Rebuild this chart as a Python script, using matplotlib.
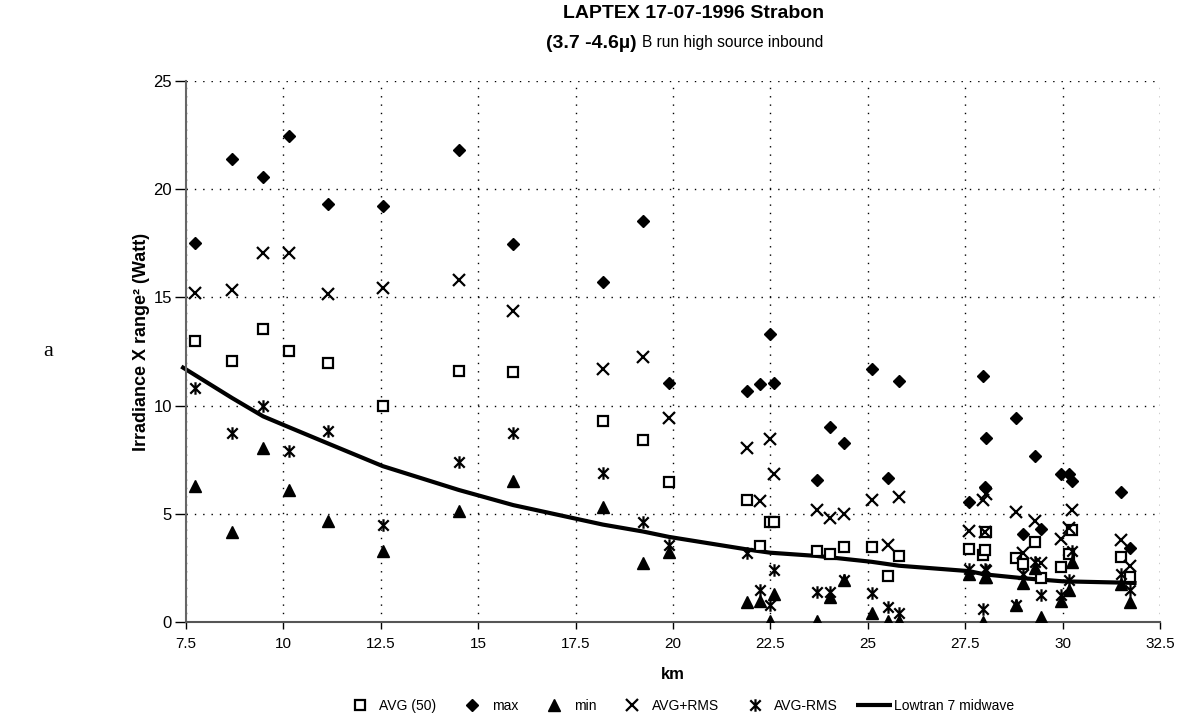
import numpy as np
import matplotlib
matplotlib.use("Agg")
from matplotlib import pyplot as plt
from matplotlib.path import Path

plt.rcParams['font.family'] = ['Liberation Sans', 'DejaVu Sans']

# range (km) of each measurement column
km = [7.73, 8.68, 9.48, 10.14, 11.14, 12.55, 14.5, 15.9, 18.2, 19.23, 19.9,
      21.91, 22.23, 22.5, 22.6, 23.7, 24.02, 24.4, 25.1, 25.51, 25.8,
      27.6, 27.96, 28.0, 28.04, 28.8, 28.98, 29.3, 29.45, 29.95, 30.16, 30.24,
      31.5, 31.74]

avg = [13.0, 12.05, 13.55, 12.5, 11.95, 10.0, 11.6, 11.55, 9.3, 8.42, 6.48,
       5.62, 3.52, 4.6, 4.6, 3.3, 3.12, 3.45, 3.45, 2.12, 3.07,
       3.37, 3.08, 3.31, 4.16, 2.95, 2.68, 3.7, 2.01, 2.55, 3.16, 4.25,
       3.01, 2.06]

vmax = [17.5, 21.4, 20.55, 22.45, 19.3, 19.2, 21.8, 17.45, 15.7, 18.5, 11.02,
        10.67, 11.0, 13.28, 11.02, 6.56, 9.02, 8.25, 11.7, 6.66, 11.12,
        5.54, 11.37, 6.23, 8.5, 9.4, 4.05, 7.69, 4.31, 6.85, 6.85, 6.5,
        6.0, 3.44]

vmin = [6.3, 4.15, 8.05, 6.1, 4.65, 3.3, 5.15, 6.5, 5.33, 2.73, 3.25,
        0.94, 0.97, 0.05, 1.28, 0.05, 1.17, 1.93, 0.4, 0.05, 0.05,
        2.2, 0.02, 2.06, 2.1, 0.78, 1.8, 2.5, 0.25, 0.97, 1.47, 2.75,
        1.75, 0.94]

avg_plus = [15.2, 15.35, 17.05, 17.05, 15.15, 15.45, 15.8, 14.35, 11.7, 12.25, 9.42,
            8.05, 5.57, 8.46, 6.82, 5.18, 4.82, 4.97, 5.64, 3.56, 5.76,
            4.22, 5.65, 4.16, 5.92, 5.1, 3.2, 4.68, 2.72, 3.82, 4.35, 5.18,
            3.81, 2.58]

avg_minus = [10.8, 8.75, 10.0, 7.9, 8.8, 4.5, 7.4, 8.75, 6.88, 4.6, 3.57,
             3.19, 1.47, 0.8, 2.4, 1.4, 1.4, 1.96, 1.32, 0.71, 0.4,
             2.47, 0.6, 2.47, 2.4, 0.8, 2.2, 2.78, 1.26, 1.24, 1.95, 3.28,
             2.22, 1.5]

# Lowtran 7 midwave model curve
lt_km = [7.38, 8.68, 9.48, 10.14, 11.14, 12.55, 14.5, 15.9, 18.2, 19.23, 19.9,
         21.91, 22.5, 23.7, 25.1, 25.8, 27.6, 28.0, 29.0, 30.0, 31.5, 31.9]
lowtran = [11.8, 10.35, 9.5, 9.0, 8.25, 7.2, 6.1, 5.4, 4.5, 4.18, 3.93,
           3.35, 3.2, 3.05, 2.78, 2.6, 2.35, 2.2, 2.02, 1.88, 1.82, 1.8]

# Excel style "star" marker: an x with a vertical bar
star = Path([(-1, -1), (1, 1), (-1, 1), (1, -1), (0, -1.2), (0, 1.2)],
            [Path.MOVETO, Path.LINETO, Path.MOVETO, Path.LINETO,
             Path.MOVETO, Path.LINETO])

fig = plt.figure(figsize=(11.93, 7.21), dpi=100)
ax = fig.add_axes([0.1559, 0.1373, 0.8164, 0.7507])

ax.plot(km, avg, ls='none', marker='s', ms=7.5, mfc='white', mec='black',
        mew=1.6, label='AVG (50)', zorder=3)
ax.plot(km, vmax, ls='none', marker='D', ms=6.5, color='black',
        label='max', zorder=3)
ax.plot(km, vmin, ls='none', marker='^', ms=8, color='black',
        label='min', zorder=3)
ax.plot(km, avg_plus, ls='none', marker='x', ms=8, mew=1.6, color='black',
        label='AVG+RMS', zorder=3)
ax.plot(km, avg_minus, ls='none', marker=star, ms=9, mew=1.6, mfc='none',
        mec='black', label='AVG-RMS', zorder=3)
ax.plot(lt_km, lowtran, color='black', lw=3, label='Lowtran 7 midwave',
        zorder=2, solid_capstyle='butt', clip_on=False)

ax.set_xlim(7.5, 32.5)
ax.set_ylim(0, 25)
ax.set_xticks(np.arange(7.5, 32.6, 2.5))
ax.set_xticklabels(['7.5', '10', '12.5', '15', '17.5', '20', '22.5', '25',
                    '27.5', '30', '32.5'])
ax.set_yticks([0, 5, 10, 15, 20, 25])
ax.tick_params(axis='x', direction='out', length=5, width=1, labelsize=11, pad=6)
ax.tick_params(axis='y', direction='out', length=8, width=1, labelsize=12, pad=2)

ax.grid(True, color='black', linestyle=(0, (1, 5)), linewidth=1)
ax.set_axisbelow(True)
for s in ['top', 'right']:
    ax.spines[s].set_visible(False)
ax.spines['left'].set_color('#666666')
ax.spines['left'].set_linewidth(1.5)
ax.spines['bottom'].set_color('#555555')
ax.spines['bottom'].set_linewidth(1.5)

ax.set_xlabel('km', fontweight='bold', fontsize=12, labelpad=11)
ax.set_ylabel('Irradiance X range² (Watt)', fontweight='bold', fontsize=13)
ax.yaxis.set_label_coords(-0.037, 0.517)

fig.text(0.5817, 1 - 14 / 721, 'LAPTEX 17-07-1996 Strabon', ha='center',
         va='center', fontsize=14, fontweight='bold')
fig.text(637 / 1193, 1 - 43 / 721, '(3.7 -4.6µ)', ha='right', va='center',
         fontsize=14, fontweight='bold')
fig.text(642 / 1193, 1 - 43 / 721, 'B run high source inbound', ha='left',
         va='center', fontsize=11.2)
fig.text(0.036, 1 - 352 / 721, 'a', fontsize=16,
         family=['Liberation Serif', 'DejaVu Serif'], ha='left', va='center')

ax.legend(loc='center', bbox_to_anchor=(0.568, 0.021),
          bbox_transform=fig.transFigure, ncol=6, frameon=False,
          fontsize=10, handlelength=2.6, columnspacing=1.3, handletextpad=0.1)

fig.savefig('out.png', dpi=100)
